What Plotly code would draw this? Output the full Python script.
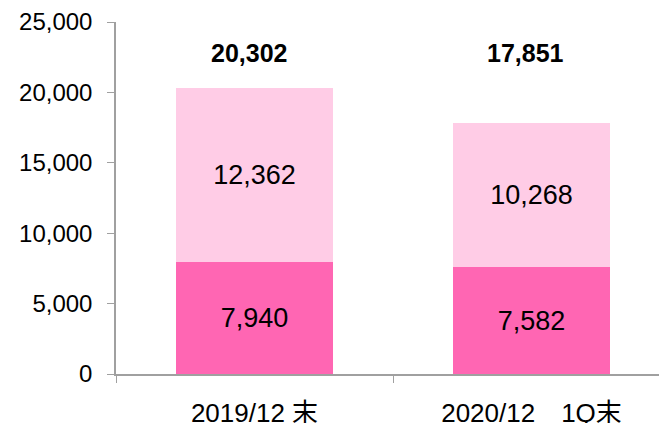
import plotly.graph_objects as go

categories = ["2019/12 末", "2020/12　1Q末"]
bottom_values = [7940, 7582]
top_values = [12362, 10268]
totals = [20302, 17851]
y_ticks = [0, 5000, 10000, 15000, 20000, 25000]

fmt = lambda v: f"{v:,}"
FONT = "Liberation Sans, Noto Sans CJK JP"

fig = go.Figure()
fig.add_bar(x=categories, y=bottom_values, marker=dict(color="#FF66B3", line=dict(width=0)),
            text=[fmt(v) for v in bottom_values], textposition="inside",
            insidetextanchor="middle", constraintext="none",
            textfont=dict(family=FONT, size=27, color="#000000"))
fig.add_bar(x=categories, y=top_values, marker=dict(color="#FFCCE6", line=dict(width=0)),
            text=[fmt(v) for v in top_values], textposition="inside",
            insidetextanchor="middle", constraintext="none",
            textfont=dict(family=FONT, size=27, color="#000000"))

for c, t in zip(categories, totals):
    fig.add_annotation(x=c, y=22800, text=f"<b>{fmt(t)}</b>", showarrow=False,
                       xshift=-6, yanchor="middle",
                       font=dict(family=FONT, size=25, color="#000000"))

fig.update_layout(
    width=667, height=423, barmode="stack", bargap=0.43, showlegend=False,
    plot_bgcolor="white", paper_bgcolor="white",
    margin=dict(l=108, r=5, t=14, b=57, autoexpand=False),
)
fig.update_xaxes(type="category", showline=True, linecolor="#A0A0A0", linewidth=1.5,
                 ticks="outside", tickson="boundaries", ticklen=7, tickcolor="#A0A0A0",
                 tickfont=dict(family=FONT, size=26, color="#000000"), automargin=False,
                 ticklabelstandoff=15, showgrid=False, zeroline=False)
fig.update_yaxes(range=[0, 25000], tickvals=y_ticks, ticktext=[fmt(v) for v in y_ticks],
                 showline=True, linecolor="#A0A0A0", linewidth=1.5,
                 ticks="outside", ticklen=7, tickcolor="#A0A0A0", automargin=False,
                 tickfont=dict(family=FONT, size=24, color="#000000"),
                 ticklabelstandoff=10, showgrid=False, zeroline=False)

fig.write_html("out.html")
